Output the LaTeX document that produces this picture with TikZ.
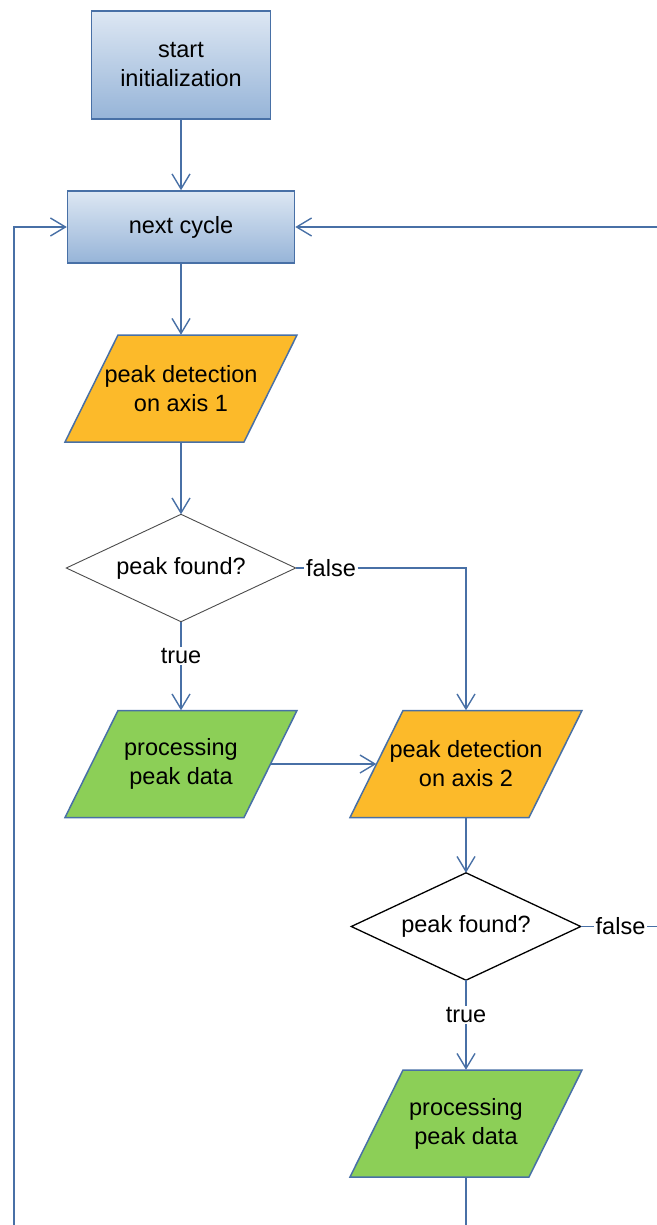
\documentclass[tikz,border=0pt]{standalone}
\usepackage{fontspec}
\setmainfont{Liberation Sans}
\usetikzlibrary{arrows.meta,backgrounds,calc}
\definecolor{linecol}{RGB}{72,112,166}
\definecolor{boxtop}{RGB}{221,231,243}
\definecolor{boxbot}{RGB}{150,180,216}
\definecolor{orangefill}{RGB}{252,186,42}
\definecolor{greenfill}{RGB}{140,207,87}
\tikzset{
  txt/.style={font=\fontsize{23.5}{29}\selectfont, text=black, align=center},
  boxstyle/.style={txt, rectangle, draw=linecol, line width=1.5pt, top color=boxtop, bottom color=boxbot, inner sep=0pt},
  paratext/.style={txt, rectangle, minimum width=179pt, minimum height=107pt, inner sep=0pt},
  parashape/.style={draw=linecol, line width=1.5pt},
  dectext/.style={txt, rectangle, minimum width=229pt, minimum height=107pt, inner sep=0pt},
  lbl/.style={txt, inner sep=1.5pt},
  conn/.style={draw=linecol, line width=1.6pt},
  arr/.style={conn, -{Straight Barb[length=15pt,width=18pt,line width=1.4pt]}}
}
\newcommand\drawpara[2]{%
  \path[parashape, fill=#2] ([shift={(-116,53.5)}]#1.center) -- ([shift={(63,53.5)}]#1.center)
    -- ([shift={(116,-53.5)}]#1.center) -- ([shift={(-63,-53.5)}]#1.center) -- cycle;}
\newcommand\drawdiamond[2]{%
  \path[fill=white, #2] (#1.north) -- (#1.east) -- (#1.south) -- (#1.west) -- cycle;}
\begin{document}
\begin{tikzpicture}[x=1pt,y=-1pt]
\useasboundingbox (0,0) rectangle (656,1225);
% nodes
\node[boxstyle, minimum width=179pt, minimum height=108pt] (start) at (181,65) {start\\initialization};
\node[boxstyle, minimum width=227pt, minimum height=72pt] (nc) at (181,227) {next cycle};
\node[paratext] (p1) at (181,388.5) {peak detection\\on axis 1};
\node[dectext] (d1) at (181,568) {peak found?};
\node[lbl] (f1) at (331,568) {false};
\node[lbl] (t1) at (181,656) {true};
\node[paratext] (g1) at (181,764) {processing\\peak data};
\node[paratext] (p2) at (466,764) {peak detection\\on axis 2};
\node[dectext] (d2) at (466,926.5) {peak found?};
\node[lbl] (f2) at (620.5,926.5) {false};
\node[lbl] (t2) at (466,1015) {true};
\node[paratext] (g2) at (466,1123.5) {processing\\peak data};
\coordinate (rturn) at (659,926.5);
\coordinate (rtop) at (659,227);
\coordinate (ltop) at (14,227);
\coordinate (lbot) at (14,1240);
\coordinate (gbot) at (466,1240);
% shapes behind the texts
\begin{scope}[on background layer]
  \drawpara{p1}{orangefill}
  \drawpara{g1}{greenfill}
  \drawpara{p2}{orangefill}
  \drawpara{g2}{greenfill}
  \drawdiamond{d1}{draw=gray!60!black, line width=0.9pt}
  \drawdiamond{d2}{draw=black, line width=1.3pt}
\end{scope}
% connectors
\draw[arr] (start.south) -- (nc.north);
\draw[arr] (nc.south) -- (p1.north);
\draw[arr] (p1.south) -- (d1.north);
\draw[conn] (d1.east) -- (f1.west);
\draw[arr] (f1.east) -| (p2.north);
\draw[conn] (d1.south) -- (t1.north);
\draw[arr] (t1.south) -- (g1.north);
\draw[arr] (g1.east) -- (p2.west);
\draw[arr] (p2.south) -- (d2.north);
\draw[conn] (d2.east) -- (f2.west);
\draw[arr] (f2.east) -- (rturn) -- (rtop) -- (nc.east);
\draw[conn] (d2.south) -- (t2.north);
\draw[arr] (t2.south) -- (g2.north);
\draw[conn] (g2.south) -- (gbot);
\draw[arr] (lbot) -- (ltop) -- (nc.west);
\end{tikzpicture}
\end{document}
